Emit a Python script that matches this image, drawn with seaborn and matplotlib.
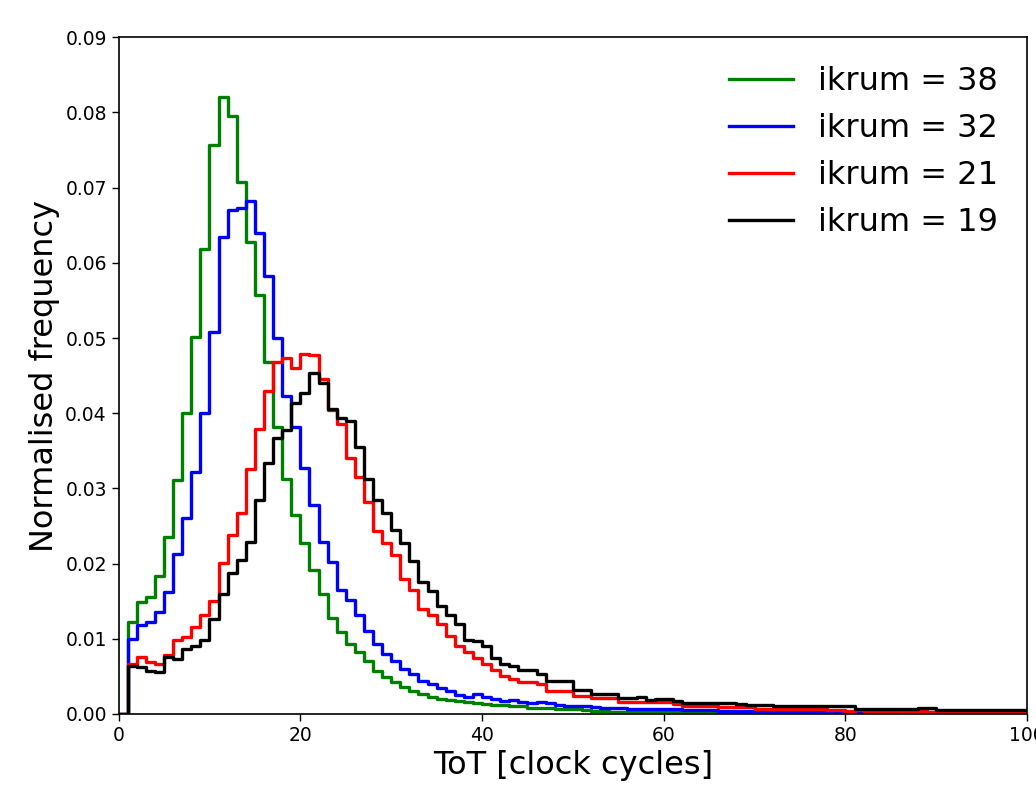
import numpy as np
import pandas as pd
import matplotlib
matplotlib.use("Agg")
import matplotlib.pyplot as plt
import seaborn as sns

# Bins of width 1 from 0 to 100 (ToT clock cycles)
bin_centers = np.arange(0, 100) + 0.5

ikrum_labels = ["ikrum = 38", "ikrum = 32", "ikrum = 21", "ikrum = 19"]
colors = ["green", "blue", "red", "black"]

freq_38 = [0, 0.0122, 0.0149, 0.0156, 0.0184, 0.0236, 0.0311, 0.0400, 0.0502, 0.0618,
           0.0757, 0.0820, 0.0795, 0.0707, 0.0628, 0.0557, 0.0468, 0.0381, 0.0313, 0.0265,
           0.0227, 0.0192, 0.0159, 0.0127, 0.0109, 0.0093, 0.0082, 0.0071, 0.0057, 0.0049,
           0.0042, 0.0036, 0.0031, 0.0027, 0.0023, 0.0020, 0.0018, 0.0017, 0.0016, 0.0014,
           0.0013, 0.0012, 0.0012, 0.0011, 0.0010, 0.0008, 0.0008, 0.0008, 0.0007, 0.0006,
           0.0006, 0.0005, 0.0004, 0.0004, 0.0003, 0.0003, 0.0003, 0.0003, 0.0003, 0.0002,
           0.0002, 0.0002, 0.0002, 0.0002, 0.0002, 0.0002, 0.0002, 0.0002, 0.0002, 0.0002,
           0.0002, 0.0002, 0.0001, 0.0001, 0.0001, 0.0001, 0.0001, 0.0001, 0.0001, 0.0001,
           0.0001, 0.0001, 0.0001, 0.0001, 0.0001, 0.0001, 0.0001, 0.0001, 0.0001, 0.0001,
           0.0001, 0.0001, 0.0001, 0.0001, 0.0001, 0.0001, 0.0001, 0.0001, 0.0001, 0.0001]

freq_32 = [0, 0.0100, 0.0118, 0.0122, 0.0136, 0.0162, 0.0213, 0.0260, 0.0322, 0.0400,
           0.0508, 0.0634, 0.0670, 0.0673, 0.0682, 0.0639, 0.0582, 0.0500, 0.0423, 0.0381,
           0.0327, 0.0278, 0.0229, 0.0202, 0.0165, 0.0151, 0.0131, 0.0111, 0.0093, 0.0080,
           0.0071, 0.0060, 0.0053, 0.0044, 0.0040, 0.0035, 0.0031, 0.0025, 0.0023, 0.0026,
           0.0022, 0.0020, 0.0017, 0.0018, 0.0016, 0.0015, 0.0016, 0.0014, 0.0012, 0.0011,
           0.0011, 0.0010, 0.0009, 0.0008, 0.0008, 0.0008, 0.0007, 0.0007, 0.0007, 0.0006,
           0.0006, 0.0006, 0.0005, 0.0005, 0.0005, 0.0005, 0.0004, 0.0004, 0.0004, 0.0004,
           0.0004, 0.0003, 0.0003, 0.0003, 0.0003, 0.0003, 0.0003, 0.0003, 0.0003, 0.0003,
           0.0003, 0.0003, 0.0003, 0.0003, 0.0002, 0.0002, 0.0002, 0.0002, 0.0002, 0.0002,
           0.0002, 0.0002, 0.0002, 0.0002, 0.0002, 0.0002, 0.0002, 0.0002, 0.0002, 0.0002]

freq_21 = [0, 0.0067, 0.0076, 0.0069, 0.0067, 0.0079, 0.0099, 0.0102, 0.0116, 0.0131,
           0.0150, 0.0201, 0.0238, 0.0267, 0.0326, 0.0379, 0.0430, 0.0468, 0.0473, 0.0460,
           0.0479, 0.0478, 0.0445, 0.0404, 0.0385, 0.0340, 0.0315, 0.0282, 0.0243, 0.0228,
           0.0212, 0.0179, 0.0165, 0.0140, 0.0131, 0.0120, 0.0104, 0.0091, 0.0082, 0.0075,
           0.0067, 0.0058, 0.0051, 0.0047, 0.0042, 0.0042, 0.0040, 0.0031, 0.0031, 0.0031,
           0.0024, 0.0024, 0.0021, 0.0021, 0.0021, 0.0016, 0.0016, 0.0016, 0.0016, 0.0016,
           0.0016, 0.0013, 0.0011, 0.0011, 0.0011, 0.0011, 0.0009, 0.0009, 0.0009, 0.0009,
           0.0006, 0.0006, 0.0006, 0.0006, 0.0006, 0.0006, 0.0006, 0.0006, 0.0005, 0.0005,
           0.0004, 0.0005, 0.0004, 0.0004, 0.0004, 0.0004, 0.0003, 0.0003, 0.0004, 0.0003,
           0.0003, 0.0003, 0.0003, 0.0003, 0.0003, 0.0003, 0.0003, 0.0003, 0.0003, 0.0003]

freq_19 = [0, 0.0064, 0.0062, 0.0057, 0.0056, 0.0076, 0.0073, 0.0087, 0.0091, 0.0099,
           0.0126, 0.0160, 0.0187, 0.0205, 0.0229, 0.0285, 0.0334, 0.0367, 0.0378, 0.0413,
           0.0427, 0.0453, 0.0440, 0.0405, 0.0393, 0.0390, 0.0355, 0.0313, 0.0285, 0.0267,
           0.0245, 0.0227, 0.0204, 0.0175, 0.0164, 0.0143, 0.0131, 0.0120, 0.0099, 0.0097,
           0.0091, 0.0075, 0.0067, 0.0064, 0.0058, 0.0058, 0.0053, 0.0044, 0.0044, 0.0044,
           0.0032, 0.0032, 0.0026, 0.0026, 0.0026, 0.0021, 0.0021, 0.0022, 0.0019, 0.0020,
           0.0020, 0.0017, 0.0015, 0.0015, 0.0015, 0.0014, 0.0014, 0.0014, 0.0013, 0.0012,
           0.0012, 0.0012, 0.0010, 0.0010, 0.0010, 0.0010, 0.0010, 0.0010, 0.0010, 0.0010,
           0.0011, 0.0007, 0.0007, 0.0007, 0.0007, 0.0007, 0.0007, 0.0007, 0.0008, 0.0008,
           0.0005, 0.0005, 0.0005, 0.0005, 0.0005, 0.0005, 0.0005, 0.0005, 0.0005, 0.0005]

series = [freq_38, freq_32, freq_21, freq_19]

fig = plt.figure(figsize=(10.36, 7.92), dpi=100)
ax = fig.add_axes([0.1145, 0.0985, 0.877, 0.8545])

for lab, vals, col in zip(ikrum_labels, series, colors):
    df = pd.DataFrame({"tot": bin_centers, "freq": np.asarray(vals, dtype=float)})
    sns.histplot(data=df, x="tot", weights="freq", binwidth=1, binrange=(0, 100),
                 element="step", fill=False, color=col, linewidth=2.4, label=lab, ax=ax)

ax.set_xlim(0, 100)
ax.set_ylim(0, 0.09)
ax.set_yticks(np.arange(0, 0.0901, 0.01))
ax.set_xticks([0, 20, 40, 60, 80, 100])
ax.tick_params(labelsize=13.5, length=5, width=1)
ax.set_xlabel("ToT [clock cycles]", fontsize=23)
ax.set_ylabel("Normalised frequency", fontsize=23)
for s in ax.spines.values():
    s.set_linewidth(1.2)
ax.legend(loc="upper right", frameon=False, fontsize=23)

fig.savefig("out.png", dpi=100)
